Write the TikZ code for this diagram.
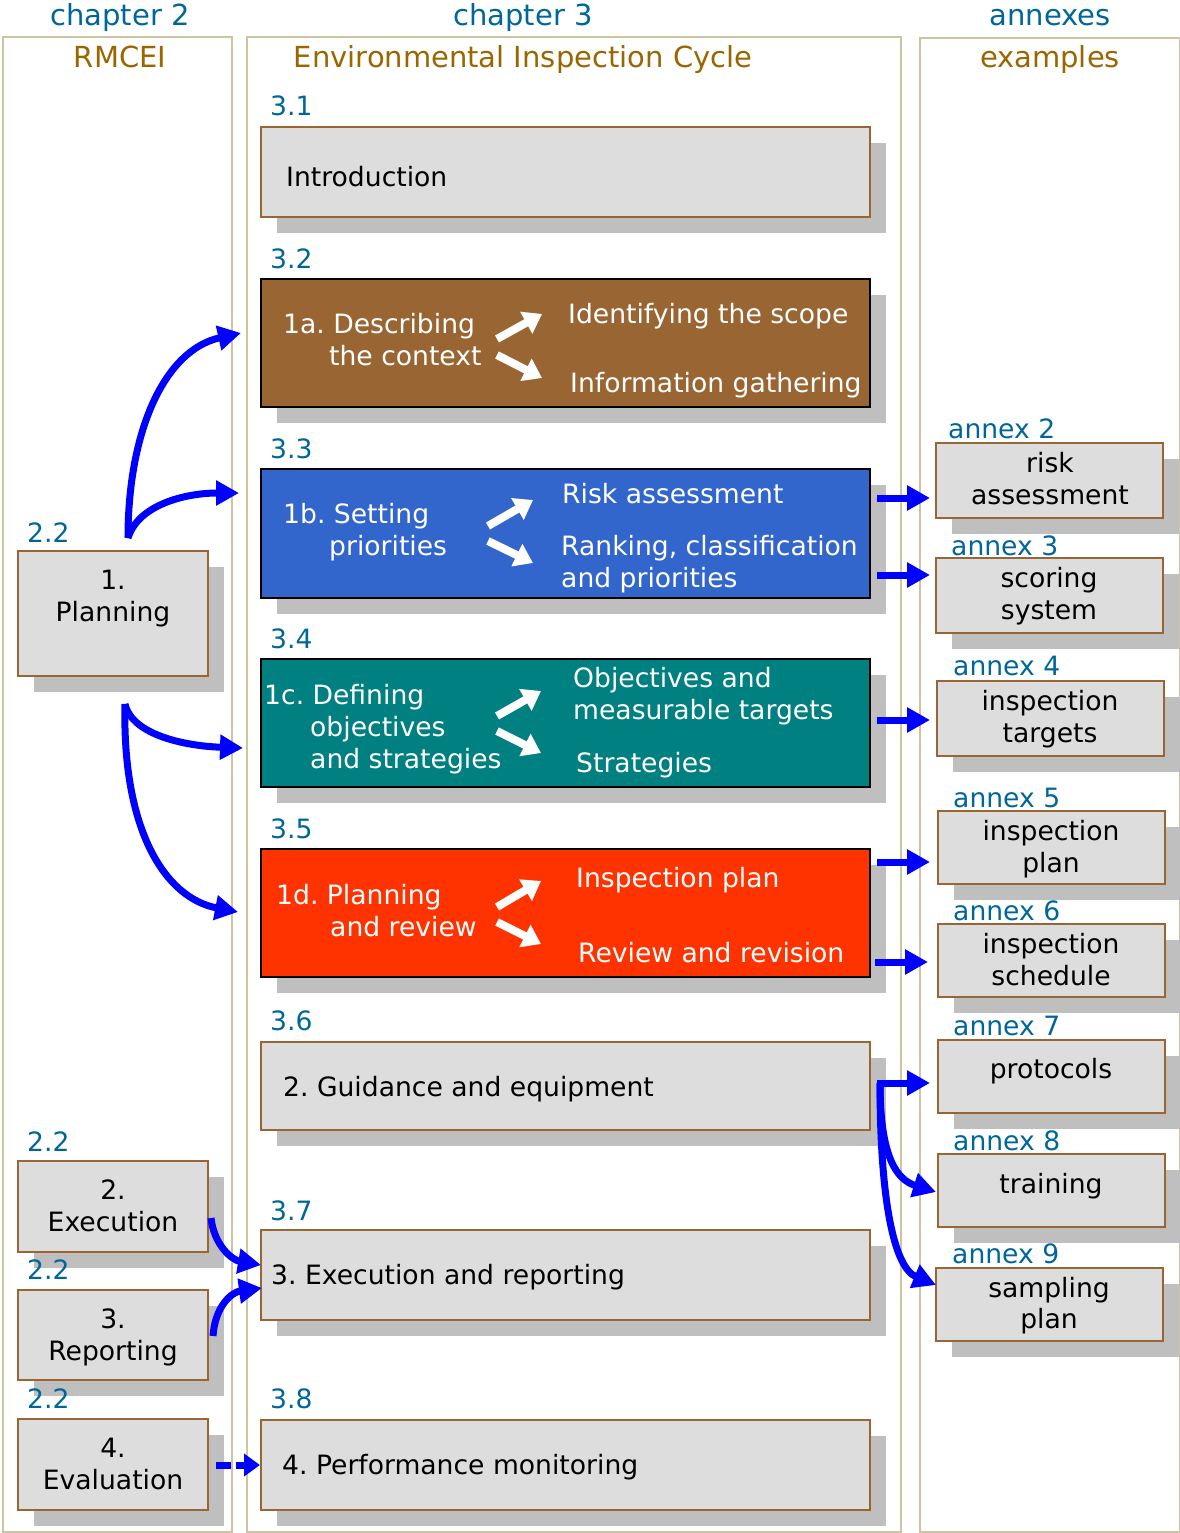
\documentclass[tikz,border=0pt]{standalone}
\usepackage{fontspec}
\setmainfont{DejaVu Sans}
\usetikzlibrary{arrows.meta,shadows}
\definecolor{lblue}{HTML}{006699}
\definecolor{tgold}{HTML}{996600}
\definecolor{frametan}{HTML}{CCC5A2}
\definecolor{boxbrown}{HTML}{996633}
\definecolor{boxgray}{HTML}{DDDDDD}
\definecolor{shadowgray}{HTML}{BFBFBF}
\definecolor{cbrown}{HTML}{996633}
\definecolor{cblue}{HTML}{3366CC}
\definecolor{cteal}{HTML}{008080}
\definecolor{cred}{HTML}{FF3300}
\definecolor{arrowblue}{HTML}{0000FF}
\begin{document}
\frenchspacing
\begin{tikzpicture}[x=1pt,y=-1pt,
  every node/.style={font=\fontsize{26.6}{32}\selectfont\frenchspacing, inner sep=0pt},
  txt/.style={anchor=west, text height=24pt, text depth=4pt},
  ctxt/.style={anchor=center, text height=24pt, text depth=4pt},
  htxt/.style={anchor=center, text height=22pt, text depth=4pt, font=\fontsize{29}{34}\selectfont},
  wtxt/.style={txt, text=white},
  blab/.style={txt, text=lblue},
  colframe/.style={draw=frametan, line width=2pt},
  shad/.style={drop shadow={shadow xshift=16pt, shadow yshift=-16pt, fill=shadowgray, opacity=1}},
  gbox/.style={draw=boxbrown, line width=2pt, fill=boxgray, shad},
  cbox/.style={draw=black, line width=2pt, shad},
  barrow/.style={draw=arrowblue, line width=7pt, -{Triangle[length=23pt,width=24pt]}},
  darrow/.style={draw=arrowblue, line width=7pt, dash pattern=on 15pt off 5pt, -{Triangle[length=16pt,width=22pt]}},
  warrow/.style={draw=white, line width=8pt, -{Triangle[length=18pt,width=24pt]}}
]
\useasboundingbox (0,0) rectangle (1179,1533);
% column frames
\node[colframe, minimum width=229pt, minimum height=1495pt, anchor=north west] (colL) at (2,36) {};
\node[colframe, minimum width=654pt, minimum height=1495pt, anchor=north west] (colM) at (246,36) {};
\node[colframe, minimum width=260pt, minimum height=1494pt, anchor=north west] (colR) at (919,37) {};
% headers
\node[htxt, text=lblue] (h2) at (120,17) {chapter 2};
\node[htxt, text=lblue] (h3) at (523,17) {chapter 3};
\node[htxt, text=lblue] (ha) at (1050,17) {annexes};
\node[htxt, text=tgold] (t2) at (120,59) {RMCEI};
\node[htxt, text=tgold] (t3) at (523,59) {Environmental Inspection Cycle};
\node[htxt, text=tgold] (ta) at (1050,59) {examples};

% middle column boxes
\node[gbox, minimum width=609pt, minimum height=90pt] (intro) at (565.5,172) {};
\node[cbox, fill=cbrown, minimum width=609pt, minimum height=128pt] (b1a) at (565.5,343) {};
\node[cbox, fill=cblue, minimum width=609pt, minimum height=129pt] (b1b) at (565.5,533.5) {};
\node[cbox, fill=cteal, minimum width=609pt, minimum height=128pt] (b1c) at (565.5,723) {};
\node[cbox, fill=cred, minimum width=609pt, minimum height=128pt] (b1d) at (565.5,913) {};
\node[gbox, minimum width=609pt, minimum height=88pt] (b2) at (565.5,1086) {};
\node[gbox, minimum width=609pt, minimum height=90pt] (b3) at (565.5,1275) {};
\node[gbox, minimum width=609pt, minimum height=90pt] (b4) at (565.5,1465) {};

\node[blab] (l31) at (270,106) {3.1};
\node[blab] (l32) at (270,258) {3.2};
\node[blab] (l33) at (270,448) {3.3};
\node[blab] (l34) at (270,638) {3.4};
\node[blab] (l35) at (270,828) {3.5};
\node[blab] (l36) at (270,1020) {3.6};
\node[blab] (l37) at (270,1210) {3.7};
\node[blab] (l38) at (270,1398) {3.8};

\node[txt] (tintro) at (286,176) {Introduction};
\node[txt] (tb2) at (283,1086) {2. Guidance and equipment};
\node[txt] (tb3) at (271,1274) {3. Execution and reporting};
\node[txt] (tb4) at (282,1464) {4. Performance monitoring};

% 1a
\node[wtxt] (a1) at (283,323) {1a. Describing};
\node[wtxt] (a2) at (329,355) {the context};
\node[wtxt] (a3) at (568,313) {Identifying the scope};
\node[wtxt] (a4) at (570,382) {Information gathering};
% 1b
\node[wtxt] (bb1) at (283,513) {1b. Setting};
\node[wtxt] (bb2) at (329,545) {priorities};
\node[wtxt] (bb3) at (562,493) {Risk assessment};
\node[wtxt] (bb4) at (561,545) {Ranking, classification};
\node[wtxt] (bb5) at (561,577) {and priorities};
% 1c
\node[wtxt] (c1) at (264,694) {1c. Defining};
\node[wtxt] (c2) at (310,726) {objectives};
\node[wtxt] (c3) at (310,758) {and strategies};
\node[wtxt] (c4) at (573,677) {Objectives and};
\node[wtxt] (c5) at (573,709) {measurable targets};
\node[wtxt] (c6) at (576,762) {Strategies};
% 1d
\node[wtxt] (d1) at (276,894) {1d. Planning};
\node[wtxt] (d2) at (330,926) {and review};
\node[wtxt] (d3) at (576,877) {Inspection plan};
\node[wtxt] (d4) at (578,952) {Review and revision};

% white arrows
\coordinate (wa1s) at (497,339); \coordinate (wa1e) at (542,314);
\coordinate (wa2s) at (497,355); \coordinate (wa2e) at (542,378);
\coordinate (wb1s) at (488,526); \coordinate (wb1e) at (533,500);
\coordinate (wb2s) at (488,541); \coordinate (wb2e) at (533,563);
\coordinate (wc1s) at (497,716); \coordinate (wc1e) at (541,691);
\coordinate (wc2s) at (497,731); \coordinate (wc2e) at (541,753);
\coordinate (wd1s) at (497,907); \coordinate (wd1e) at (541,881);
\coordinate (wd2s) at (497,922); \coordinate (wd2e) at (541,944);
\draw[warrow] (wa1s) -- (wa1e);
\draw[warrow] (wa2s) -- (wa2e);
\draw[warrow] (wb1s) -- (wb1e);
\draw[warrow] (wb2s) -- (wb2e);
\draw[warrow] (wc1s) -- (wc1e);
\draw[warrow] (wc2s) -- (wc2e);
\draw[warrow] (wd1s) -- (wd1e);
\draw[warrow] (wd2s) -- (wd2e);

% left column boxes
\node[gbox, minimum width=190pt, minimum height=125pt] (plan) at (113,613.5) {};
\node[gbox, minimum width=190pt, minimum height=91pt] (exec) at (113,1206.5) {};
\node[gbox, minimum width=190pt, minimum height=90pt] (rep) at (113,1335) {};
\node[gbox, minimum width=190pt, minimum height=91pt] (eval) at (113,1464.5) {};
\node[blab] (lp) at (27,532) {2.2};
\node[blab] (le) at (27,1141) {2.2};
\node[blab] (lr) at (27,1269) {2.2};
\node[blab] (lv) at (27,1398) {2.2};
\node[ctxt] (p1) at (113,579) {1.};
\node[ctxt] (p2) at (113,611) {Planning};
\node[ctxt] (e1) at (113,1189) {2.};
\node[ctxt] (e2) at (113,1221) {Execution};
\node[ctxt] (r1) at (113,1318) {3.};
\node[ctxt] (r2) at (113,1350) {Reporting};
\node[ctxt] (v1) at (113,1447) {4.};
\node[ctxt] (v2) at (113,1479) {Evaluation};

% right column boxes
\node[gbox, minimum width=227pt, minimum height=75pt] (risk) at (1049.5,480.5) {};
\node[gbox, minimum width=227pt, minimum height=75pt] (score) at (1049.5,595.5) {};
\node[gbox, minimum width=227pt, minimum height=75pt] (targ) at (1050.5,718.5) {};
\node[gbox, minimum width=227pt, minimum height=73pt] (iplan) at (1051.5,847.5) {};
\node[gbox, minimum width=227pt, minimum height=73pt] (isched) at (1051.5,960.5) {};
\node[gbox, minimum width=227pt, minimum height=73pt] (proto) at (1051.5,1076.5) {};
\node[gbox, minimum width=227pt, minimum height=73pt] (train) at (1051.5,1190.5) {};
\node[gbox, minimum width=227pt, minimum height=73pt] (samp) at (1049.5,1304.5) {};
\node[blab] (an2) at (948,428) {annex 2};
\node[blab] (an3) at (951,545) {annex 3};
\node[blab] (an4) at (953,665) {annex 4};
\node[blab] (an5) at (953,797) {annex 5};
\node[blab] (an6) at (953,910) {annex 6};
\node[blab] (an7) at (953,1025) {annex 7};
\node[blab] (an8) at (953,1140) {annex 8};
\node[blab] (an9) at (952,1253) {annex 9};
\node[ctxt] (x1) at (1050,462) {risk};
\node[ctxt] (x2) at (1050,494) {assessment};
\node[ctxt] (x3) at (1049,577) {scoring};
\node[ctxt] (x4) at (1049,609) {system};
\node[ctxt] (x5) at (1050,700) {inspection};
\node[ctxt] (x6) at (1050,732) {targets};
\node[ctxt] (x7) at (1051,830) {inspection};
\node[ctxt] (x8) at (1051,862) {plan};
\node[ctxt] (x9) at (1051,943) {inspection};
\node[ctxt] (x10) at (1051,975) {schedule};
\node[ctxt] (x11) at (1051,1068) {protocols};
\node[ctxt] (x12) at (1051,1183) {training};
\node[ctxt] (x13) at (1049,1287) {sampling};
\node[ctxt] (x14) at (1049,1318) {plan};

% blue arrows: planning
\coordinate (ps) at (128,538);
\coordinate (pt1) at (241,333);
\coordinate (pt2) at (239,493);
\draw[barrow] (ps) .. controls (128,430) and (165,350) .. (pt1);
\draw[barrow] (ps) .. controls (138,505) and (185,493) .. (pt2);
\coordinate (qs) at (125,704);
\coordinate (qt1) at (243,748);
\coordinate (qt2) at (238,912);
\draw[barrow] (qs) .. controls (132,735) and (185,746) .. (qt1);
\draw[barrow] (qs) .. controls (122,830) and (165,898) .. (qt2);

% to annexes
\coordinate (g1) at (930,498);
\coordinate (g2) at (930,575);
\coordinate (g3) at (930,720);
\coordinate (g4) at (930,862);
\coordinate (g5) at (928,962);
\draw[barrow] ([xshift=6pt]b1b.east |- g1) -- (g1);
\draw[barrow] ([xshift=6pt]b1b.east |- g2) -- (g2);
\draw[barrow] ([xshift=6pt]b1c.east |- g3) -- (g3);
\draw[barrow] ([xshift=6pt]b1d.east |- g4) -- (g4);
\draw[barrow] ([xshift=4pt]b1d.east |- g5) -- (g5);

\coordinate (gs) at (880,1083);
\coordinate (gp) at (930,1083);
\coordinate (gt) at (936,1192);
\coordinate (gsm) at (936,1285);
\draw[barrow] ([xshift=6pt]b2.east |- gs) -- (gp);
\draw[barrow] (gs) .. controls (880,1160) and (898,1180) .. (gt);
\draw[barrow] (gs) .. controls (880,1205) and (895,1268) .. (gsm);

% execution/reporting/evaluation
\coordinate (es) at (211,1218);
\coordinate (et) at (261,1265);
\draw[barrow] (es) .. controls (214,1245) and (232,1260) .. (et);
\coordinate (rs) at (213,1336);
\coordinate (rt) at (262,1288);
\draw[barrow] (rs) .. controls (215,1306) and (232,1292) .. (rt);
\coordinate (vs) at (216,1465);
\draw[darrow] (vs) -- (b4.west);
\end{tikzpicture}
\end{document}
